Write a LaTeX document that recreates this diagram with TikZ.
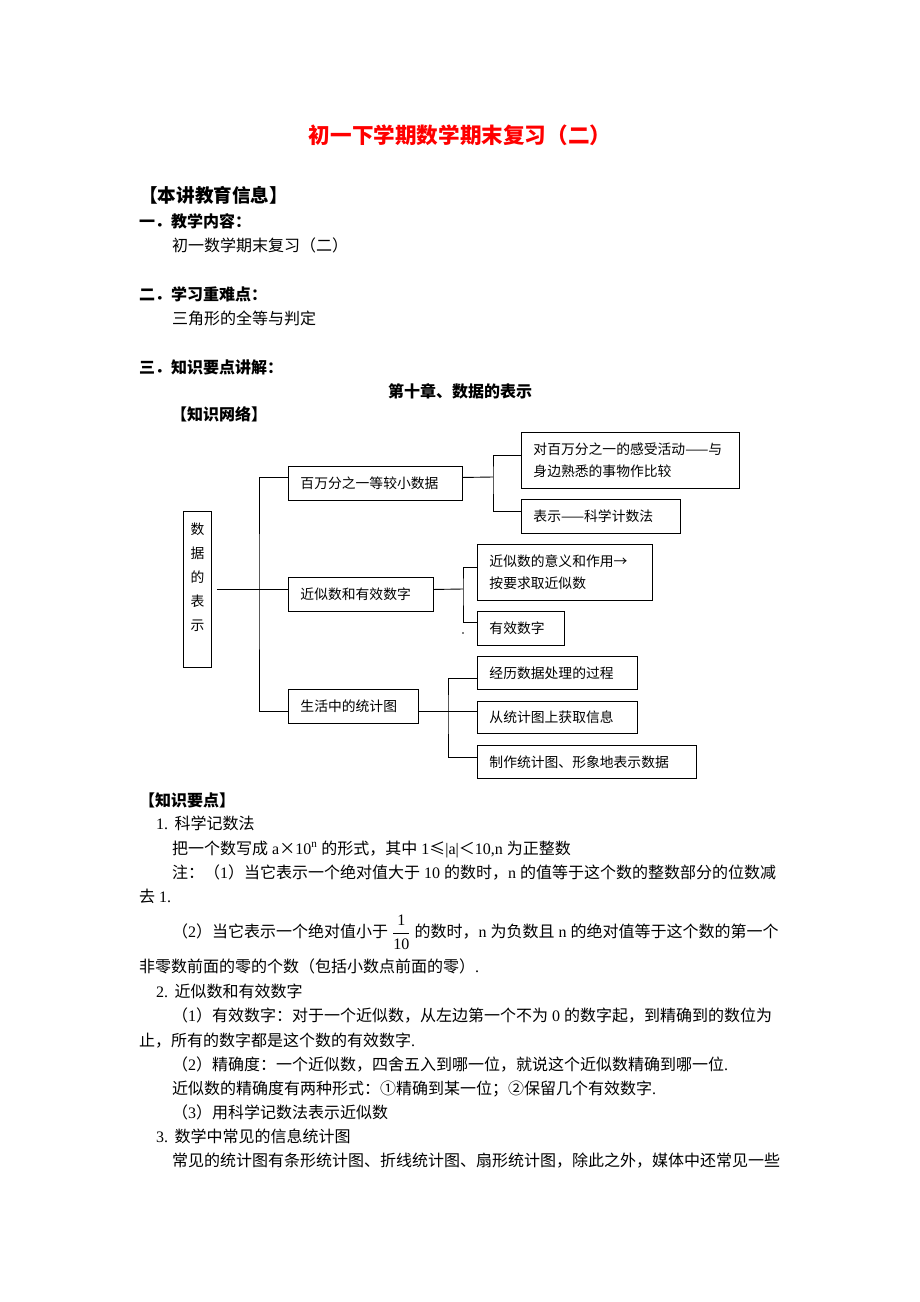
\documentclass[tikz,border=0pt]{standalone}
\usepackage{fontspec}
\setmainfont{Liberation Serif}
\newfontfamily\cjk{Noto Sans CJK SC}
\newcommand{\latn}[1]{{\rmfamily #1}}

\begin{document}
\begin{tikzpicture}[x=1pt, y=-1pt,
	box/.style={draw, line width=0.9pt, anchor=north west, inner xsep=12pt, inner ysep=0pt, align=left, font=\cjk\fontsize{13.8}{22}\selectfont},
	conn/.style={line width=0.9pt},
	body/.style={anchor=base west, inner sep=0pt, font=\cjk\fontsize{16}{24}\selectfont},
	head/.style={body, font=\cjk\bfseries\fontsize{16}{24}\selectfont}]
	\fill[white] (0,0) rectangle (920,1302);
	\useasboundingbox (0,0) rectangle (920,1302);

	% top of the page
	\node[anchor=base, inner sep=0pt, text=red, font=\cjk\bfseries\fontsize{21.6}{26}\selectfont] (title) at (460,143) {初一下学期数学期末复习（二）};
	\node[head, font=\cjk\bfseries\fontsize{18.6}{24}\selectfont] (info) at (139,202) {【本讲教育信息】};
	\node[head] (sec1) at (139,227) {一．教学内容：};
	\node[body] (sec1t) at (172,251.5) {初一数学期末复习（二）};
	\node[head] (sec2) at (139,300) {二．学习重难点：};
	\node[body] (sec2t) at (172,324.5) {三角形的全等与判定};
	\node[head] (sec3) at (139,373) {三．知识要点讲解：};
	\node[head, anchor=base] (chap) at (460,397.5) {第十章、数据的表示};
	\node[head] (net) at (171,420) {【知识网络】};

	% knowledge network
	\node[draw, line width=0.9pt, anchor=north west, minimum width=28pt, minimum height=156pt, inner sep=0pt, font=\cjk\fontsize{13.8}{24}\selectfont] (root) at (183,511)
		{\begin{tabular}{@{}c@{}}数\\据\\的\\表\\示\\ \mbox{}\end{tabular}};
	\node[box, text width=150pt, minimum height=34pt] (small) at (288,466) {百万分之一等较小数据};
	\node[box, text width=121pt, minimum height=34pt] (approx) at (288,577) {近似数和有效数字};
	\node[box, text width=106pt, minimum height=34pt] (stat) at (288,689) {生活中的统计图};
	\node[box, text width=194pt, minimum height=56pt] (feel) at (521,432) {对百万分之一的感受活动——与\\身边熟悉的事物作比较};
	\node[box, text width=135pt, minimum height=34pt] (sci) at (521,499) {表示——科学计数法};
	\node[box, text width=151pt, minimum height=56pt] (meaning) at (477,544) {近似数的意义和作用→\\按要求取近似数};
	\node[box, text width=63pt, minimum height=34pt] (sigfig) at (477,611) {有效数字};
	\node[box, text width=136pt, minimum height=33pt] (process) at (477,656) {经历数据处理的过程};
	\node[box, text width=136pt, minimum height=32pt] (read) at (477,701) {从统计图上获取信息};
	\node[box, text width=195pt, minimum height=33pt] (make) at (477,745) {制作统计图、形象地表示数据};

	\coordinate (t) at (259,589);
	\coordinate (j1) at (493,477);
	\coordinate (j2) at (463,589);
	\coordinate (j3) at (448,711);

	\draw[conn] ([xshift=5pt]root.east) -- (root.east -| approx.west);
	\draw[conn] ([yshift=6pt]small.west) -| (t) |- ([yshift=-5pt]stat.west);
	\draw[conn] ([yshift=6pt]small.east) -- (j1);
	\draw[conn] ([yshift=5pt]feel.west) -| (j1) |- ([yshift=5pt]sci.west);
	\draw[conn] ([yshift=5pt]approx.east) -- (j2);
	\draw[conn] ([yshift=5pt]meaning.west) -| (j2) |- ([yshift=6pt]sigfig.west);
	\draw[conn] ([yshift=-5pt]stat.east) -- ([yshift=6pt]read.west);
	\draw[conn] ([yshift=-5.5pt]process.west) -| (j3) |- ([yshift=4.5pt]make.west);
	\fill (463,633) circle (0.9pt);

	% knowledge points
	\node[head] (kp) at (139,806) {【知识要点】};
	\node[body] (l1) at (156,829.5) {\latn{1.}\hspace{6.5pt}科学记数法};
	\node[body] (l2) at (172,854) {把一个数写成\latn{ a}×\latn{10\textsuperscript{n} }的形式，其中\latn{ 1}≤\latn{|a|}＜\latn{10,n }为正整数};
	\node[body] (l3) at (172,878) {注：（\latn{1}）当它表示一个绝对值大于\latn{ 10 }的数时，\latn{n }的值等于这个数的整数部分的位数减};
	\node[body] (l4) at (139,902.5) {去\latn{ 1.}};
	\node[body] (l5) at (172,937.5) {（\latn{2}）当它表示一个绝对值小于\latn{ }$\displaystyle\frac{\hbox{\rmfamily 1}}{\hbox{\rmfamily 10}}$\latn{ }的数时，\latn{n }为负数且\latn{ n }的绝对值等于这个数的第一个};
	\node[body] (l6) at (139,972.5) {非零数前面的零的个数（包括小数点前面的零）\latn{.}};
	\node[body] (l7) at (156,997) {\latn{2.}\hspace{6.5pt}近似数和有效数字};
	\node[body] (l8) at (172,1021) {（\latn{1}）有效数字：对于一个近似数，从左边第一个不为\latn{ 0 }的数字起，到精确到的数位为};
	\node[body] (l9) at (139,1046) {止，所有的数字都是这个数的有效数字\latn{.}};
	\node[body] (l10) at (172,1070) {（\latn{2}）精确度：一个近似数，四舍五入到哪一位，就说这个近似数精确到哪一位\latn{.}};
	\node[body] (l11) at (172,1094) {近似数的精确度有两种形式：①精确到某一位；②保留几个有效数字\latn{.}};
	\node[body] (l12) at (172,1118) {（\latn{3}）用科学记数法表示近似数};
	\node[body] (l13) at (156,1142.5) {\latn{3.}\hspace{6.5pt}数学中常见的信息统计图};
	\node[body] (l14) at (172,1166.5) {常见的统计图有条形统计图、折线统计图、扇形统计图，除此之外，媒体中还常见一些};
\end{tikzpicture}
\end{document}
